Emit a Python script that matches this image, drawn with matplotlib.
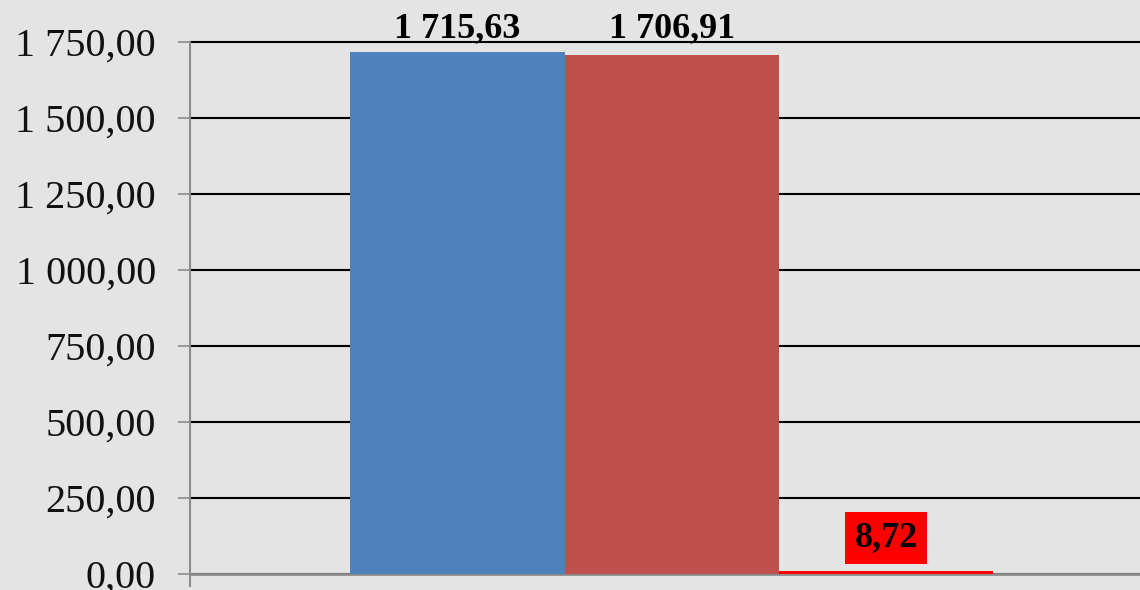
import matplotlib
matplotlib.use("Agg")
import matplotlib.pyplot as plt
from matplotlib.ticker import FuncFormatter

# values
categories = ['Series 1', 'Series 2', 'Difference']
values = [1715.63, 1706.91, 8.72]
colors = ['#4f81bd', '#c0504d', '#ff0000']
yticks = [0, 250, 500, 750, 1000, 1250, 1500, 1750]


def fmt(v, pos=None):
    s = f"{v:,.2f}"
    return s.replace(',', ' ').replace('.', ',')


plt.rcParams['font.family'] = ['Liberation Serif', 'DejaVu Serif']

bg = '#e4e4e4'
fig = plt.figure(figsize=(11.4, 5.9), dpi=100, facecolor=bg)
# px per data unit: 532 px for 1750
ppu = 532 / 1750
ymax = 1850
h = ymax * ppu / 590
ax = fig.add_axes([190 / 1140, 16 / 590, 1 - 190 / 1140, h])
ax.set_facecolor(bg)

x = list(range(len(values)))
bars = ax.bar(x, values, width=1.0, color=colors, zorder=3)

bw = 214.3
ax.set_xlim((190 - 457.5) / bw, (1140 - 457.5) / bw)
ax.set_ylim(0, ymax)

ax.set_yticks(yticks)
ax.yaxis.set_major_formatter(FuncFormatter(fmt))
ax.tick_params(axis='y', length=8.6, width=1.2, color='#8c8c8c', pad=16,
               labelsize=29, labelcolor='#111111')
ax.grid(axis='y', color='black', lw=1.5, zorder=1)

ax.set_xticks([ax.get_xlim()[0]])
ax.set_xticklabels([''])
ax.tick_params(axis='x', length=9, width=1.5, color='#8c8c8c')

for side in ['top', 'right']:
    ax.spines[side].set_visible(False)
ax.spines['left'].set_color('#8c8c8c')
ax.spines['left'].set_linewidth(1.5)
ax.spines['left'].set_bounds(0, 1750)
ax.spines['bottom'].set_color('#8c8c8c')
ax.spines['bottom'].set_linewidth(2)

# labels on the two big bars
for b, v in zip(bars[:2], values[:2]):
    ax.annotate(fmt(v), (b.get_x() + b.get_width() / 2, 1715.63),
                xytext=(0, 5), textcoords='offset points', ha='center',
                va='bottom', fontsize=26, fontweight='bold', zorder=5)

# small bar label on red box
b = bars[2]
ax.annotate(fmt(values[2]), (b.get_x() + b.get_width() / 2, values[2]),
            xytext=(0, 24), textcoords='offset points', ha='center',
            va='center', fontsize=26, fontweight='bold', zorder=5,
            bbox=dict(boxstyle='square,pad=0.25', fc='#ff0000', ec='none'))

fig.savefig('out.png', dpi=100, facecolor=bg)
